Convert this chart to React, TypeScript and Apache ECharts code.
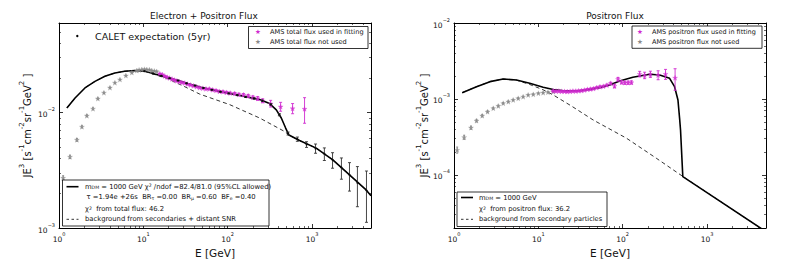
import React, { useEffect, useRef } from 'react';
import * as echarts from 'echarts';

// ---------------- Left panel: Electron + Positron Flux ----------------
const leftModelE = [1.24, 1.55, 2.03, 2.67, 3.5, 4.6, 6.0, 7.9, 10.4, 13.7, 18, 23.6, 33.6, 48, 80, 139, 239, 314, 377, 432, 485, 532, 711, 1120, 1762, 2780, 4375, 5000];
const leftModelJ = [0.0110, 0.0134, 0.0164, 0.0187, 0.0207, 0.0221, 0.0229, 0.0232, 0.0229, 0.0217, 0.0204, 0.0194, 0.0179, 0.0166, 0.0153, 0.0141, 0.0130, 0.0120, 0.0106, 0.0090, 0.0074, 0.0064, 0.00574, 0.00493, 0.0039, 0.00289, 0.00214, 0.0019];

const leftBgE = [1.24, 1.55, 2.03, 2.67, 3.5, 4.6, 6.0, 7.9, 10.4, 13.7, 18.8, 30, 46.6, 105.6, 239, 473, 532, 711, 1120, 1762, 2780, 4375, 5000];
const leftBgJ = [0.0110, 0.0134, 0.0164, 0.0187, 0.0207, 0.0221, 0.0229, 0.0232, 0.0229, 0.0214, 0.0199, 0.0170, 0.0145, 0.01175, 0.0090, 0.00687, 0.0064, 0.00574, 0.00493, 0.0039, 0.00289, 0.00214, 0.0019];

const leftGrayE = [1.12, 1.35, 1.63, 1.87, 2.14, 2.53, 2.89, 3.41, 4.02, 4.60, 5.28, 6.21, 7.31, 8.38, 8.9, 9.6, 10.3, 11.0, 11.8, 12.6, 13.5, 14.4];
const leftGrayJ = [0.00272, 0.00414, 0.00582, 0.00755, 0.00942, 0.01083, 0.01325, 0.0149, 0.0165, 0.0182, 0.0194, 0.0210, 0.0223, 0.0232, 0.0235, 0.0237, 0.0238, 0.0237, 0.0236, 0.0232, 0.0230, 0.0228];
const leftGrayErr = [0.00012, 0.00014, 0.00016, 0.00016, 0.00018, 0.0002, 0.0002, 0.0002, 0.0002, 0.0002, 0.0002, 0.0002, 0.0002, 0.0002, 0.0002, 0.0002, 0.0002, 0.0002, 0.0002, 0.0002, 0.0002, 0.0002];

const leftMagE = [15.7, 16.8, 18.0, 19.2, 20.5, 21.9, 23.4, 25.0, 26.8, 28.7, 31.0, 33.5, 36.3, 39.4, 42.8, 46.5, 50.7, 55.3, 60.5, 66.3, 72.8, 80.0, 88.0, 97.0, 107, 121, 136, 154, 175, 199, 227, 260, 323, 424, 588, 815];
const leftMagJ = [0.0218, 0.0214, 0.0208, 0.0203, 0.0200, 0.0196, 0.0192, 0.0189, 0.0186, 0.0183, 0.0181, 0.0177, 0.0174, 0.0171, 0.0168, 0.0165, 0.0163, 0.0161, 0.0161, 0.0158, 0.0156, 0.0153, 0.0152, 0.0150, 0.0148, 0.0147, 0.0144, 0.0143, 0.0140, 0.0136, 0.0133, 0.0127, 0.0120, 0.0113, 0.0109, 0.0108];
const leftMagErr = [0.0002, 0.0002, 0.0002, 0.0002, 0.0002, 0.0002, 0.0002, 0.0002, 0.0002, 0.0002, 0.0002, 0.0002, 0.0002, 0.0002, 0.0002, 0.0002, 0.0002, 0.0002, 0.00025, 0.00025, 0.00025, 0.00025, 0.0003, 0.0003, 0.0003, 0.0003, 0.00035, 0.00035, 0.0004, 0.0004, 0.0005, 0.0005, 0.0008, 0.0010, 0.0011, 0.0027];

const caletE = [10.3, 13, 16.3, 20.5, 25.8, 32.5, 41, 51.5, 65, 82, 103, 130, 163, 205, 258, 325, 410, 520, 670, 860, 1100, 1400, 1750, 2230, 2780, 3450, 4420];
const caletJ = [0.0229, 0.0219, 0.0209, 0.0199, 0.0190, 0.0180, 0.0172, 0.0164, 0.0158, 0.0152, 0.0147, 0.0142, 0.0137, 0.0133, 0.0127, 0.0118, 0.0096, 0.0066, 0.0059, 0.0053, 0.0049, 0.0044, 0.0039, 0.00335, 0.00289, 0.00247, 0.00212];
const caletErr = [0.0001, 0.0001, 0.0001, 0.0001, 0.0001, 0.0001, 0.0001, 0.0001, 0.0001, 0.0001, 0.00012, 0.00012, 0.00014, 0.00015, 0.00016, 0.00018, 0.0002, 0.0002, 0.00025, 0.0003, 0.00045, 0.00055, 0.0006, 0.0007, 0.0008, 0.00094, 0.001];

// ---------------- Right panel: Positron Flux ----------------
const rightModelE = [1.25, 1.85, 2.67, 3.83, 5.5, 7.9, 11.4, 15, 20, 30, 40, 55, 70, 92, 132, 209, 274, 360, 412, 452, 473, 485, 516, 5000];
const rightModelJ = [0.00121, 0.00145, 0.00169, 0.00183, 0.00178, 0.00161, 0.00143, 0.00133, 0.00128, 0.00128, 0.00133, 0.00142, 0.00153, 0.00172, 0.00193, 0.00211, 0.00207, 0.00187, 0.00145, 0.00097, 0.00055, 0.00039, 0.000095, 0.0000179];

const rightBgE = [1.25, 1.85, 2.67, 3.83, 5.5, 7.9, 11.4, 15, 25, 44.5, 111, 250, 516, 5000];
const rightBgJ = [0.00121, 0.00145, 0.00169, 0.00183, 0.00177, 0.00155, 0.00132, 0.00113, 0.00080, 0.00053, 0.000304, 0.000166, 0.0000955, 0.0000179];

const rightGrayE = [1.09, 1.32, 1.59, 1.85, 2.16, 2.5, 2.92, 3.35, 3.83, 4.4, 5.03, 5.77, 6.6, 7.57, 8.7, 10, 11.4, 13, 15];
const rightGrayJ = [0.000213, 0.000313, 0.000419, 0.000518, 0.000602, 0.00068, 0.000754, 0.000809, 0.000878, 0.000922, 0.00097, 0.00102, 0.00107, 0.00113, 0.00115, 0.00119, 0.00121, 0.00123, 0.00125];
const rightGrayErr = [0.00002, 0.00002, 0.00002, 0.00002, 0.00002, 0.00002, 0.00002, 0.00002, 0.00002, 0.00002, 0.00002, 0.00002, 0.00002, 0.00002, 0.00002, 0.00002, 0.00002, 0.00002, 0.00002];

const rightMagE = [15.0, 16.2, 17.5, 18.9, 20.4, 22.0, 23.8, 25.7, 27.8, 30.0, 32.5, 35.2, 38.2, 41.5, 45.1, 49.2, 53.8, 59.0, 65.0, 72.0, 80.0, 88.0, 97, 106, 116, 127, 159, 182, 213, 263, 322, 418];
const rightMagJ = [0.00128, 0.00127, 0.00127, 0.00126, 0.00126, 0.00125, 0.00126, 0.00127, 0.00127, 0.00128, 0.00129, 0.00131, 0.00134, 0.00135, 0.00137, 0.00141, 0.00145, 0.00147, 0.00152, 0.00161, 0.00148, 0.00182, 0.00166, 0.00164, 0.00164, 0.00165, 0.00213, 0.00205, 0.00212, 0.00207, 0.00213, 0.00190];
const rightMagErr = [0.00003, 0.00003, 0.00003, 0.00003, 0.00003, 0.00003, 0.00003, 0.00003, 0.00003, 0.00003, 0.00003, 0.00003, 0.00003, 0.00004, 0.00004, 0.00004, 0.00004, 0.00004, 0.00005, 0.00005, 0.00008, 0.0001, 0.00008, 0.00008, 0.00008, 0.00008, 0.00018, 0.0002, 0.0002, 0.00028, 0.00032, 0.0006];

// ---------------- Texts ----------------
const titles = ['Electron + Positron Flux', 'Positron Flux'];
const xName = 'E [GeV]';
const yName = '{b|JE}{u|3}{b| [s}{u|-1}{b|cm}{u|-2}{b|sr}{u|-1}{b|GeV}{u|2}{b| ]}';
const leftTopLegend = ['AMS total flux used in fitting', 'AMS total flux not used'];
const rightTopLegend = ['AMS positron flux used in fitting', 'AMS positron flux not used'];
const caletLabel = 'CALET expectation (5yr)';
const leftBottomLegend = [
  'm{sub|DM} = 1000 GeV χ{sup|2} /ndof =82.4/81.0 (95%CL allowed)',
  'τ =1.94e +26s  BR{sub|τ} =0.00  BR{sub|μ} =0.60  BF{sub|e} =0.40',
  'χ{sup|2}  from total flux: 46.2',
  'background from secondaries + distant SNR',
];
const rightBottomLegend = [
  'm{sub|DM} = 1000 GeV',
  'χ{sup|2}  from positron flux: 36.2',
  'background from secondary particles',
];

const FONT = 'DejaVu Sans';
const TXT = '#111';
const MAG = '#d02ad0';
const GRAY = '#8a8a8a';
const STAR = 'path://M50,0L61.8,35.1L98.1,35.1L68.8,56.7L79.4,91.9L50,70.6L20.6,91.9L31.2,56.7L1.9,35.1L38.2,35.1Z';

const pairs = (xs: number[], ys: number[]) => xs.map((x, i) => [x, ys[i]]);
const errData = (xs: number[], ys: number[], es: number[]) => xs.map((x, i) => [x, ys[i] - es[i], ys[i] + es[i]]);

const errRender = (color: string, cap: number, lw: number) => (_p: any, api: any) => {
  const x = api.value(0);
  const a = api.coord([x, api.value(2)]);
  const b = api.coord([x, api.value(1)]);
  const st = { stroke: color, lineWidth: lw };
  return {
    type: 'group',
    children: [
      { type: 'line', shape: { x1: a[0], y1: a[1], x2: b[0], y2: b[1] }, style: st },
      { type: 'line', shape: { x1: a[0] - cap, y1: a[1], x2: a[0] + cap, y2: a[1] }, style: st },
      { type: 'line', shape: { x1: b[0] - cap, y1: b[1], x2: b[0] + cap, y2: b[1] }, style: st },
    ],
  };
};

const supLabel = (v: number) => {
  const e = Math.round(Math.log10(v));
  return `{b|10}{s|${e < 0 ? '−' + -e : e}}`;
};
const labelRich = {
  b: { fontSize: 7.5, lineHeight: 12, verticalAlign: 'bottom', fontFamily: FONT, color: TXT },
  s: { fontSize: 5, lineHeight: 6, verticalAlign: 'top', fontFamily: FONT, color: TXT },
};
const nameRich = {
  b: { fontSize: 10, lineHeight: 14, verticalAlign: 'bottom', fontFamily: FONT, color: TXT },
  u: { fontSize: 7, lineHeight: 8, verticalAlign: 'top', fontFamily: FONT, color: TXT },
};
const legendRich = {
  sub: { fontSize: 4.6, lineHeight: 5, verticalAlign: 'bottom', fontFamily: FONT, fill: TXT, color: TXT },
  sup: { fontSize: 4.6, lineHeight: 5, verticalAlign: 'top', fontFamily: FONT, fill: TXT, color: TXT },
};

const axisLine = { show: true, onZero: false, lineStyle: { color: '#000', width: 1 } };
const axisTick = { show: true, inside: true, length: 4, lineStyle: { color: '#000', width: 0.8 } };
const minorTick = { show: true, splitNumber: 9, length: 2, lineStyle: { color: '#000', width: 0.6 } };

function makeX(gridIndex: number) {
  const common: any = {
    type: 'log', logBase: 10, min: 1, max: 5000, gridIndex,
    splitLine: { show: false }, minorSplitLine: { show: false },
    axisLine, axisTick, minorTick,
  };
  return [
    {
      ...common, position: 'bottom',
      name: xName, nameLocation: 'middle', nameGap: 11,
      nameTextStyle: { fontSize: 10.5, fontFamily: FONT, color: TXT },
      axisLabel: { formatter: supLabel, rich: labelRich, margin: 3, showMaxLabel: false },
    },
    { ...common, position: 'top', axisLabel: { show: false } },
  ];
}

function makeY(gridIndex: number, min: number, max: number, gap: number, hideMin: boolean, hideMax: boolean) {
  const common: any = {
    type: 'log', logBase: 10, min, max, gridIndex,
    splitLine: { show: false }, minorSplitLine: { show: false },
    axisLine, axisTick, minorTick,
  };
  return [
    {
      ...common, position: 'left',
      name: yName, nameLocation: 'middle', nameGap: gap, nameRotate: 90,
      nameTextStyle: { rich: nameRich, fontFamily: FONT, color: TXT },
      axisLabel: { formatter: supLabel, rich: labelRich, margin: 4, showMinLabel: !hideMin, showMaxLabel: !hideMax },
    },
    { ...common, position: 'right', axisLabel: { show: false } },
  ];
}

const Z = 100;
const gText = (x: number, y: number, text: string, size = 6.8) => ({
  type: 'text', x, y, z: Z, silent: true,
  style: { text, fontSize: size, fontFamily: FONT, fill: TXT, align: 'left', verticalAlign: 'middle', textAlign: 'left', textVerticalAlign: 'middle', rich: legendRich },
});
const gStar = (x: number, y: number, color: string) => ({
  type: 'text', x, y, z: Z, silent: true,
  style: { text: '★', fontSize: 6.5, fontFamily: FONT, fill: color, align: 'center', verticalAlign: 'middle', textAlign: 'center', textVerticalAlign: 'middle' },
});
const gBox = (x: number, y: number, w: number, h: number) => ({
  type: 'rect', z: Z - 1, silent: true, shape: { x, y, width: w, height: h },
  style: { fill: '#fff', stroke: '#000', lineWidth: 0.8 },
});
const gLine = (x1: number, x2: number, y: number, dashed: boolean) => ({
  type: 'line', z: Z, silent: true, shape: { x1, y1: y, x2, y2: y },
  style: { stroke: '#000', lineWidth: dashed ? 0.8 : 1.6, lineDash: dashed ? [2.5, 2.5] : null },
});

const graphics: any[] = [
  // left panel, top right legend
  gBox(248.5, 26.5, 119.5, 22),
  gStar(258, 32.3, MAG), gText(270, 32.3, leftTopLegend[0], 6.6),
  gStar(258, 42.3, GRAY), gText(270, 42.3, leftTopLegend[1], 6.6),
  // CALET label
  { type: 'circle', z: Z, silent: true, shape: { cx: 77.3, cy: 36, r: 1.2 }, style: { fill: '#000' } },
  gText(95, 36, caletLabel, 9.5),
  // left panel, bottom legend
  gBox(62.5, 180, 206.5, 46),
  gLine(66.5, 78.5, 186.7, false), gText(85, 186.7, leftBottomLegend[0]),
  gText(86.5, 197.3, leftBottomLegend[1]),
  gText(85, 209, leftBottomLegend[2]),
  gLine(66.5, 78.5, 219.3, true), gText(85, 219.3, leftBottomLegend[3]),
  // right panel, top legend
  gBox(632, 26, 130, 22.3),
  gStar(640, 32.3, MAG), gText(652, 32.3, rightTopLegend[0], 6.5),
  gStar(640, 42.3, GRAY), gText(652, 42.3, rightTopLegend[1], 6.5),
  // right panel, bottom legend
  gBox(457, 192, 150, 34.5),
  gLine(461, 473, 197.5, false), gText(479, 197.5, rightBottomLegend[0]),
  gText(479, 209, rightBottomLegend[1]),
  gLine(461, 473, 219.3, true), gText(479, 219.3, rightBottomLegend[2], 6.6),
];

function buildOption(): any {
  const line = (xi: number, yi: number, xs: number[], ys: number[], dashed: boolean) => ({
    type: 'line', xAxisIndex: xi, yAxisIndex: yi, data: pairs(xs, ys),
    symbol: 'none', showSymbol: false, clip: true, silent: true, z: 3,
    lineStyle: dashed ? { color: '#000', width: 0.8, type: [4, 3] } : { color: '#000', width: 1.6 },
  });
  const stars = (xi: number, yi: number, xs: number[], ys: number[], color: string, z: number) => ({
    type: 'scatter', xAxisIndex: xi, yAxisIndex: yi, data: pairs(xs, ys),
    symbol: STAR, symbolSize: 5, silent: true, z,
    itemStyle: { color, borderColor: color, borderWidth: 0.3 },
  });
  const errs = (xi: number, yi: number, xs: number[], ys: number[], es: number[], color: string, cap: number, z: number) => ({
    type: 'custom', xAxisIndex: xi, yAxisIndex: yi, data: errData(xs, ys, es),
    encode: { x: 0, y: [1, 2] }, renderItem: errRender(color, cap, 0.9), clip: true, silent: true, z,
  });
  return {
    animation: false,
    backgroundColor: '#fff',
    textStyle: { fontFamily: FONT },
    title: [
      { text: titles[0], left: 145, top: 6, textStyle: { fontSize: 9, fontWeight: 'normal', fontFamily: FONT, color: TXT } },
      { text: titles[1], left: 610, top: 6, textAlign: 'center', textStyle: { fontSize: 9, fontWeight: 'normal', fontFamily: FONT, color: TXT } },
    ],
    grid: [
      { left: 59, top: 23, width: 312, height: 205, containLabel: false },
      { left: 454, top: 23, width: 312, height: 205, containLabel: false },
    ],
    xAxis: [...makeX(0), ...makeX(1)],
    yAxis: [...makeY(0, 0.001, 0.06, 27, false, true), ...makeY(1, 0.00002, 0.01, 22, true, false)],
    graphic: graphics,
    series: [
      // left
      line(0, 0, leftBgE, leftBgJ, true),
      line(0, 0, leftModelE, leftModelJ, false),
      errs(0, 0, leftGrayE, leftGrayJ, leftGrayErr, GRAY, 1, 4),
      stars(0, 0, leftGrayE, leftGrayJ, GRAY, 5),
      errs(0, 0, leftMagE, leftMagJ, leftMagErr, MAG, 1.5, 6),
      stars(0, 0, leftMagE, leftMagJ, MAG, 7),
      errs(0, 0, caletE, caletJ, caletErr, '#333', 1.5, 8),
      {
        type: 'scatter', xAxisIndex: 0, yAxisIndex: 0, data: pairs(caletE, caletJ),
        symbol: 'circle', symbolSize: 2.2, silent: true, z: 9, itemStyle: { color: '#000' },
      },
      // right
      line(2, 2, rightBgE, rightBgJ, true),
      line(2, 2, rightModelE, rightModelJ, false),
      errs(2, 2, rightGrayE, rightGrayJ, rightGrayErr, GRAY, 1, 4),
      stars(2, 2, rightGrayE, rightGrayJ, GRAY, 5),
      errs(2, 2, rightMagE, rightMagJ, rightMagErr, MAG, 1.5, 6),
      stars(2, 2, rightMagE, rightMagJ, MAG, 7),
    ],
  };
}

export default function App() {
  const ref = useRef<HTMLDivElement>(null);
  useEffect(() => {
    if (!ref.current) return;
    const chart = echarts.init(ref.current, undefined, { renderer: 'svg' });
    chart.setOption(buildOption());
    return () => chart.dispose();
  }, []);
  return (
    <div
      ref={ref}
      style={{ position: 'fixed', left: 0, top: 0, width: 789, height: 274, background: '#fff' }}
    />
  );
}
